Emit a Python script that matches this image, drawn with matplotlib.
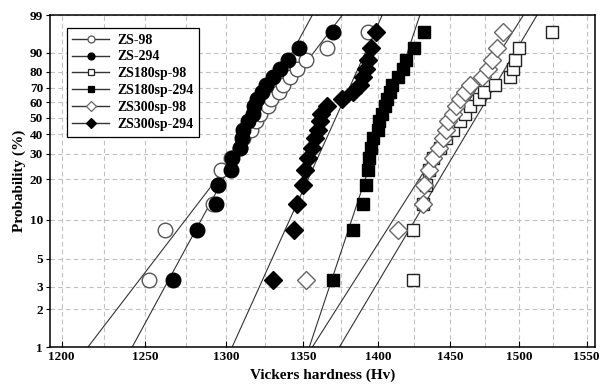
import numpy as np
import matplotlib
matplotlib.use('Agg')
import matplotlib.pyplot as plt
from matplotlib.lines import Line2D
from matplotlib.ticker import FixedLocator, FixedFormatter, NullFormatter

plt.rcParams['font.family'] = ['Liberation Serif', 'DejaVu Serif']
plt.rcParams['font.weight'] = 'bold'

# ---- data ----
n_samples = 20
ranks = np.arange(1, n_samples + 1)
prob = (ranks - 0.3) / (n_samples + 0.4) * 100  # median rank (%)

series_names = ['ZS-98', 'ZS-294', 'ZS180sp-98', 'ZS180sp-294', 'ZS300sp-98', 'ZS300sp-294']

zs_98 = [1252, 1262, 1292, 1295, 1297, 1303, 1309, 1311, 1316, 1319,
         1322, 1327, 1329, 1334, 1337, 1341, 1346, 1352, 1366, 1393]
zs_294 = [1267, 1282, 1294, 1295, 1303, 1304, 1309, 1310, 1311, 1314,
          1317, 1318, 1320, 1323, 1326, 1330, 1335, 1340, 1347, 1370]
zs180_98 = [1424, 1424, 1431, 1433, 1435, 1438, 1443, 1447, 1452, 1457,
            1461, 1464, 1471, 1474, 1482, 1493, 1495, 1497, 1500, 1524]
zs180_294 = [1370, 1383, 1390, 1392, 1393, 1394, 1395, 1397, 1400, 1401,
             1403, 1405, 1406, 1408, 1410, 1414, 1417, 1419, 1425, 1432]
zs300_98 = [1352, 1414, 1431, 1432, 1435, 1438, 1442, 1445, 1447, 1449,
            1452, 1454, 1457, 1461, 1464, 1473, 1477, 1480, 1484, 1488]
zs300_294 = [1330, 1344, 1346, 1350, 1351, 1353, 1356, 1358, 1360, 1361,
             1362, 1366, 1376, 1383, 1388, 1390, 1392, 1393, 1395, 1399]

# fitted Weibull lines: hardness at 1 % and at 99 % probability
fit_at_1 = [1215.5, 1242, 1374, 1354, 1356, 1304]
fit_at_99 = [1376, 1356, 1513, 1429, 1503, 1403]

x_ticks = [1200, 1250, 1300, 1350, 1400, 1450, 1500, 1550]
x_minor = [1225, 1275, 1325, 1375, 1425, 1475, 1525]
y_ticks = [1, 2, 3, 5, 10, 20, 30, 40, 50, 60, 70, 80, 90, 99]

all_data = [zs_98, zs_294, zs180_98, zs180_294, zs300_98, zs300_294]

# ---- styles ----
markers = ['o', 'o', 's', 's', 'D', 'D']
msizes = [10.5, 10.5, 9, 9, 9.5, 9.5]
faces = ['white', 'black', 'white', 'black', 'white', 'black']
edges = ['#555555', 'black', '#222222', 'black', '#666666', 'black']


def fwd(p):
    p = np.clip(np.asarray(p, dtype=float), 1e-9, 100 - 1e-9)
    return np.log(-np.log(1 - p / 100.0))


def inv(w):
    w = np.clip(np.asarray(w, dtype=float), -60, 3.5)
    return 100.0 * (1 - np.exp(-np.exp(w)))


fig = plt.figure(figsize=(6.0, 3.88), dpi=100)
ax = fig.add_axes([50 / 600, 41 / 388, 545 / 600, 332 / 388])
ax.set_xscale('log')
ax.set_yscale('function', functions=(fwd, inv))

# fit lines
w1, w99 = fwd(1), fwd(99)
pgrid = np.linspace(0.05, 99.95, 600)
wgrid = fwd(pgrid)
for lo, hi in zip(fit_at_1, fit_at_99):
    lnh = np.log(lo) + (wgrid - w1) / (w99 - w1) * (np.log(hi) - np.log(lo))
    ax.plot(np.exp(lnh), pgrid, color='#333333', lw=0.8, zorder=2)

for d, m, ms, fc, ec in zip(all_data, markers, msizes, faces, edges):
    ax.plot(d, prob, linestyle='none', marker=m, markersize=ms,
            markerfacecolor=fc, markeredgecolor=ec, markeredgewidth=1.0, zorder=3)

ax.set_xlim(1193.2, 1556.3)
ax.set_ylim(1, 99)

ax.xaxis.set_major_locator(FixedLocator(x_ticks))
ax.xaxis.set_major_formatter(FixedFormatter([str(v) for v in x_ticks]))
ax.xaxis.set_minor_locator(FixedLocator(x_minor))
ax.xaxis.set_minor_formatter(NullFormatter())
ax.yaxis.set_major_locator(FixedLocator(y_ticks))
ax.yaxis.set_major_formatter(FixedFormatter([str(v) for v in y_ticks]))
ax.yaxis.set_minor_locator(FixedLocator([]))

ax.grid(True, which='major', color='#c0c0c0', linestyle=(0, (4, 3)), linewidth=0.8, zorder=0)
ax.grid(True, which='minor', axis='x', color='#c0c0c0', linestyle=(0, (4, 3)), linewidth=0.8, zorder=0)
ax.set_axisbelow(True)

ax.tick_params(axis='x', which='major', direction='in', length=4, width=0.8, labelsize=9.5, pad=3)
ax.tick_params(axis='x', which='minor', length=0)
ax.tick_params(axis='y', which='major', direction='out', length=3, width=0.8, labelsize=9.5, pad=2)
for s in ax.spines.values():
    s.set_linewidth(1.1)
    s.set_color('black')

ax.set_xlabel('Vickers hardness (Hv)', fontsize=11, fontweight='bold', labelpad=4)
ax.set_ylabel('Probability (%)', fontsize=11, fontweight='bold', labelpad=3)

handles = []
for name, m, fc, ec in zip(series_names, markers, faces, edges):
    handles.append(Line2D([], [], color='#333333', lw=1.0, marker=m, markersize=5,
                          markerfacecolor=fc, markeredgecolor=ec, markeredgewidth=0.9))
leg = ax.legend(handles, series_names, loc='upper left', bbox_to_anchor=(0.031, 0.961),
                borderaxespad=0, frameon=True, fancybox=False, framealpha=1,
                edgecolor='black', handlelength=2.6, labelspacing=0.28,
                prop={'family': 'Liberation Serif', 'weight': 'bold', 'size': 10},
                borderpad=0.4, handletextpad=0.6)
leg.get_frame().set_linewidth(0.9)
leg.set_zorder(5)

fig.savefig('out.png', dpi=100)
